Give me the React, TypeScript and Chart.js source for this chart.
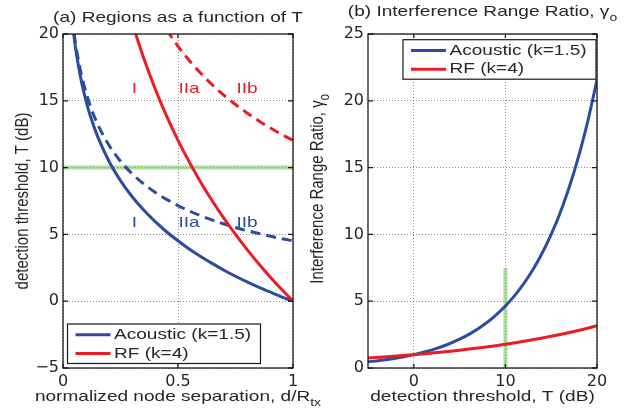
import React, { useEffect, useRef } from 'react';
import { Chart, registerables } from 'chart.js';

Chart.register(...registerables);

// ---------- Panel (a): regions as a function of T ----------
const sepAcoustic = [0.04, 0.05, 0.06, 0.08, 0.1, 0.12, 0.15, 0.2, 0.25, 0.3, 0.35, 0.4, 0.45, 0.5, 0.55, 0.6, 0.65, 0.7, 0.75, 0.8, 0.85, 0.9, 0.95, 1.0];
const tAcousticSolid = [20.97, 19.52, 18.33, 16.45, 15.0, 13.81, 12.36, 10.48, 9.03, 7.84, 6.84, 5.97, 5.2, 4.52, 3.89, 3.33, 2.81, 2.32, 1.87, 1.45, 1.06, 0.69, 0.33, 0];
const tAcousticDashed = [21.22, 19.83, 18.71, 16.95, 15.62, 14.55, 13.27, 11.67, 10.48, 9.55, 8.79, 8.16, 7.62, 7.16, 6.75, 6.39, 6.07, 5.78, 5.52, 5.28, 5.07, 4.87, 4.68, 4.52];
const sepRfSolid = [0.3, 0.32, 0.35, 0.4, 0.45, 0.5, 0.55, 0.6, 0.65, 0.7, 0.75, 0.8, 0.85, 0.9, 0.95, 1.0];
const tRfSolid = [20.92, 19.79, 18.24, 15.92, 13.87, 12.04, 10.39, 8.87, 7.48, 6.2, 5.0, 3.88, 2.82, 1.83, 0.89, 0];
const sepRfDashed = [0.45, 0.5, 0.55, 0.6, 0.65, 0.7, 0.75, 0.8, 0.85, 0.9, 0.95, 1.0];
const tRfDashed = [20.33, 19.08, 18.0, 17.04, 16.18, 15.41, 14.72, 14.09, 13.51, 12.98, 12.49, 12.04];
const greenSep = [0, 1];
const greenT = [10, 10];
const regionNames = ['I', 'IIa', 'IIb'];
const regionSep = [0.31, 0.548, 0.8];
const rfRegionT = 15.9;
const acRegionT = 5.9;
const aTicksX = [0, 0.5, 1];
const aTicksY = [-5, 0, 5, 10, 15, 20];

// ---------- Panel (b): interference range ratio ----------
const threshT = [-5, -3.75, -2.5, -1.25, 0, 1.25, 2.5, 3.75, 5, 6.25, 7.5, 8.75, 10, 11.25, 12.5, 13.75, 15, 16.25, 17.5, 18.75, 20];
const ratioAcoustic = [0.464, 0.562, 0.681, 0.825, 1, 1.212, 1.468, 1.778, 2.154, 2.61, 3.162, 3.831, 4.642, 5.623, 6.813, 8.254, 10, 12.115, 14.678, 17.783, 21.544];
const ratioRf = [0.75, 0.806, 0.866, 0.931, 1, 1.075, 1.155, 1.241, 1.334, 1.433, 1.54, 1.655, 1.778, 1.911, 2.054, 2.207, 2.371, 2.548, 2.738, 2.943, 3.162];
const greenThresh = [10, 10];
const greenRatio = [0, 7.5];
const bTicksX = [0, 10, 20];
const bTicksY = [0, 5, 10, 15, 20, 25];

const legendLabels = ['Acoustic (k=1.5)', 'RF (k=4)'];

const BLUE = '#2b4c9f';
const RED = '#ec1c24';
const GREEN = 'rgba(120,200,90,0.6)';
const INK = '#262626';
const FONT = '"Liberation Sans", Arial, Helvetica, sans-serif';
const TXT = 15;
const STRETCH = 1.27;

type Part = { t: string; sub?: boolean };

function drawText(
  ctx: CanvasRenderingContext2D,
  parts: Part[],
  x: number,
  y: number,
  opts: { align?: 'center' | 'left'; rotate?: boolean; color?: string } = {}
) {
  const main = `${TXT}px ${FONT}`;
  const sub = `11px ${FONT}`;
  ctx.save();
  ctx.translate(x, y);
  ctx.scale(STRETCH, 1);
  if (opts.rotate) ctx.rotate(-Math.PI / 2);
  let total = 0;
  const widths = parts.map((p) => {
    ctx.font = p.sub ? sub : main;
    const w = ctx.measureText(p.t).width;
    total += w;
    return w;
  });
  let cx = opts.align === 'left' ? 0 : -total / 2;
  ctx.fillStyle = opts.color || INK;
  ctx.textBaseline = 'middle';
  ctx.textAlign = 'left';
  parts.forEach((p, i) => {
    ctx.font = p.sub ? sub : main;
    ctx.fillText(p.t, cx, p.sub ? 6 : 0);
    cx += widths[i];
  });
  ctx.restore();
}

const xy = (xs: number[], ys: number[]) => xs.map((x, i) => ({ x, y: ys[i] }));
const fmt = (v: number) => (v < 0 ? '\u2212' + Math.abs(v) : String(v));

interface Decor {
  offset: number;
  title: Part[];
  titleY: number;
  xlabel: Part[];
  ylabel: Part[];
  ylabelX: number;
  ylabelY: number;
  legendPos: 'bottomleft' | 'topright';
  regions?: boolean;
}

function decorPlugin(d: Decor) {
  return {
    id: 'decor',
    afterDraw(chart: any) {
      const { ctx, chartArea: a, scales } = chart;
      const xs = scales.x;
      const ys = scales.y;
      const cxMid = (a.left + a.right) / 2;

      if (d.regions) {
        regionNames.forEach((n, i) => {
          drawText(ctx, [{ t: n }], xs.getPixelForValue(regionSep[i]), ys.getPixelForValue(rfRegionT), { color: RED });
          drawText(ctx, [{ t: n }], xs.getPixelForValue(regionSep[i]), ys.getPixelForValue(acRegionT), { color: BLUE });
        });
      }

      // axes box and inward ticks
      ctx.save();
      ctx.strokeStyle = '#1a1a1a';
      ctx.lineWidth = 1.3;
      ctx.strokeRect(a.left, a.top, a.right - a.left, a.bottom - a.top);
      ctx.beginPath();
      xs.ticks.forEach((t: any) => {
        const px = xs.getPixelForValue(t.value);
        ctx.moveTo(px, a.bottom);
        ctx.lineTo(px, a.bottom - 4);
        ctx.moveTo(px, a.top);
        ctx.lineTo(px, a.top + 4);
      });
      ys.ticks.forEach((t: any) => {
        const py = ys.getPixelForValue(t.value);
        ctx.moveTo(a.left, py);
        ctx.lineTo(a.left + 5, py);
        ctx.moveTo(a.right, py);
        ctx.lineTo(a.right - 5, py);
      });
      ctx.stroke();
      ctx.restore();

      // legend
      const bw = 193;
      const bh = 39.5;
      const bx = d.legendPos === 'bottomleft' ? a.left + 4.5 : a.right - 1 - bw;
      const by = d.legendPos === 'bottomleft' ? a.bottom - 4.5 - bh : a.top + 5.7;
      ctx.save();
      ctx.fillStyle = '#fff';
      ctx.fillRect(bx, by, bw, bh);
      ctx.strokeStyle = '#1a1a1a';
      ctx.lineWidth = 1.2;
      ctx.strokeRect(bx, by, bw, bh);
      legendLabels.forEach((lab, i) => {
        const ds = chart.data.datasets.find((s: any) => s.label === lab);
        const ry = by + 10.8 + i * 18.7;
        ctx.strokeStyle = ds.borderColor;
        ctx.lineWidth = ds.borderWidth;
        ctx.beginPath();
        ctx.moveTo(bx + 8, ry);
        ctx.lineTo(bx + 43, ry);
        ctx.stroke();
        drawText(ctx, [{ t: lab }], bx + 46.5, ry, { align: 'left' });
      });
      ctx.restore();

      // titles and axis labels
      drawText(ctx, d.title, cxMid, d.titleY);
      drawText(ctx, d.xlabel, cxMid, 397);
      drawText(ctx, d.ylabel, d.ylabelX - d.offset, d.ylabelY, { rotate: true });
    },
  };
}

function scaleOpts(min: number, max: number, ticks: number[], fit: (s: any) => void) {
  return {
    type: 'linear' as const,
    min,
    max,
    afterBuildTicks: (s: any) => {
      s.ticks = ticks.map((v) => ({ value: v }));
    },
    afterFit: fit,
    ticks: {
      font: { family: 'DejaVu Sans', size: 16 },
      color: INK,
      padding: 4,
      callback: (v: any) => fmt(Number(v)),
    },
    grid: { color: 'rgba(0,0,0,0.45)', lineWidth: 1, drawTicks: false },
    border: { display: false, dash: [1, 2] },
  };
}

function baseOptions(padRight: number, yWidth: number, ax: number[], ay: number[], tx: number[], ty: number[], decor: Decor) {
  return {
    animation: false as const,
    responsive: false,
    maintainAspectRatio: false,
    layout: { padding: { top: 34, right: padRight, left: 0, bottom: 0 } },
    elements: { point: { radius: 0 }, line: { cubicInterpolationMode: 'monotone' as const } },
    plugins: { legend: { display: false }, tooltip: { enabled: false }, title: { display: false } },
    scales: {
      x: scaleOpts(ax[0], ax[1], tx, (s: any) => {
        s.height = 46;
      }),
      y: scaleOpts(ay[0], ay[1], ty, (s: any) => {
        s.width = yWidth;
      }),
    },
  };
}

function configA(): any {
  const decor: Decor = {
    offset: 0,
    title: [{ t: '(a) Regions as a function of T' }],
    titleY: 18,
    xlabel: [{ t: 'normalized node separation, d/R' }, { t: 'tx', sub: true }],
    ylabel: [{ t: 'detection threshold, T (dB)' }],
    ylabelX: 23,
    ylabelY: 201,
    legendPos: 'bottomleft',
    regions: true,
  };
  return {
    type: 'line',
    data: {
      datasets: [
        { label: 'RF (k=4)', data: xy(sepRfSolid, tRfSolid), borderColor: RED, borderWidth: 3 },
        { label: 'RF (k=4) IIb', data: xy(sepRfDashed, tRfDashed), borderColor: RED, borderWidth: 3, borderDash: [10, 6] },
        { label: 'Acoustic (k=1.5)', data: xy(sepAcoustic, tAcousticSolid), borderColor: BLUE, borderWidth: 3 },
        { label: 'Acoustic (k=1.5) IIb', data: xy(sepAcoustic, tAcousticDashed), borderColor: BLUE, borderWidth: 3, borderDash: [10, 6] },
        { label: 'T = 10 dB', data: xy(greenSep, greenT), borderColor: GREEN, borderWidth: 4 },
      ],
    },
    options: baseOptions(42, 63, [0, 1], [-5, 20], aTicksX, aTicksY, decor),
    plugins: [decorPlugin(decor)],
  };
}

function configB(): any {
  const decor: Decor = {
    offset: 300,
    title: [{ t: '(b) Interference Range Ratio, \u03b3' }, { t: 'o', sub: true }],
    titleY: 12,
    xlabel: [{ t: 'detection threshold, T (dB)' }],
    ylabel: [{ t: 'Interference Range Ratio, \u03b3' }, { t: 'o', sub: true }],
    ylabelX: 318,
    ylabelY: 189,
    legendPos: 'topright',
  };
  return {
    type: 'line',
    data: {
      datasets: [
        { label: 'RF (k=4)', data: xy(threshT, ratioRf), borderColor: RED, borderWidth: 3 },
        { label: 'Acoustic (k=1.5)', data: xy(threshT, ratioAcoustic), borderColor: BLUE, borderWidth: 3 },
        { label: 'T = 10 dB', data: xy(greenThresh, greenRatio), borderColor: GREEN, borderWidth: 4 },
      ],
    },
    options: baseOptions(33, 68, [-5, 20], [0, 25], bTicksX, bTicksY, decor),
    plugins: [decorPlugin(decor)],
  };
}

function Panel({ left, width, make }: { left: number; width: number; make: () => any }) {
  const ref = useRef<HTMLCanvasElement>(null);
  useEffect(() => {
    const chart = new Chart(ref.current as HTMLCanvasElement, make());
    return () => chart.destroy();
  }, []);
  return (
    <canvas
      ref={ref}
      width={width}
      height={414}
      style={{ position: 'absolute', left, top: 0, width, height: 414 }}
    />
  );
}

export default function App() {
  return (
    <div style={{ position: 'fixed', left: 0, top: 0, width: 630, height: 414, background: '#fff', overflow: 'hidden' }}>
      <Panel left={0} width={335} make={configA} />
      <Panel left={300} width={330} make={configB} />
    </div>
  );
}
